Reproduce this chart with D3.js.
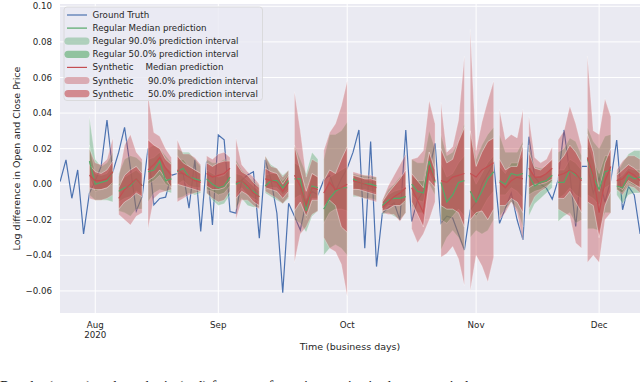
<!DOCTYPE html>
<html>
<head>
<meta charset="utf-8">
<script src="https://cdn.jsdelivr.net/npm/d3@7"></script>
<style>
  body { margin: 0; background: #fff; overflow: hidden; }
  text { font-family: "DejaVu Sans", sans-serif; }
</style>
</head>
<body>
<div id="plot"></div>
<script>
// all values below are in units of 0.001 (log difference)
// ground truth, business-day index -6 .. 93 (index 0 = first business day of Aug 2020)
const gtStart = -6;
const groundTruth = [1.5, 13.7, -7.9, 8, -28, -5,
  2, 10, 36, 7, 18, 32, 9, -15, -7, 20,
  -11.6, -8, -7.3, 5, 6, 6, -13.5, 13.7, -26.6, 12.7,
  -22.9, 27.7, 24.9, -15.4, -16.3, 2.4, 5.2, 7, -30.3, 13.7,
  2.4, -16.3, -61, -10.7, -18, -25.7, -10, -4, -6, 2.4,
  5, -4, 3, 9, 18, 30.5, -36, 24, -46.3, -16.3,
  -13.3, -10.5, -20, 30.5, -21, -9, -4, 8, 23, -21.9,
  -18, -19, -28, -37, -14.5, -10, 0, 6, 11.8, -22,
  -13.5, -5, -20, -31.3, 26.7, 4, 0, -2.2, -8.4, 2.4,
  30.5, 6, -23.8, 10, 10, -5, 4, -10, 2.4, 24.8,
  -14.4, -1.3, -6, -28];

// weekly forecast windows (5 business days each), first index of each window
const chunkStart = [-1, 4, 9, 14, 19, 24, 29, 34, 39, 44, 49, 54, 59, 64, 69, 74, 79, 84, 89];

// Regular model
const regMed = [13,0,1,2,7, -4,-2,-1,3,-1, 7,8,13,2,3, 7,9,4,3,2, 3,0,-2,-1,4,
  0,2,-2,-4,-7, -1,2,2,-2,2, 3,3,-15,-1,-2, -14,-8,-4,-2,-2, 3,1,0,0,-1,
  -12,-9,-8,-8,-7, 0,-4,-5,13,1, 1,-10,-6,1,2, -4,-10,-4,3,7, 2,0,6,5,6,
  5,-1,1,2,5, 1,1,8,5,3, 14,4,-3,7,8, -1,-2,5,3,4];
const regLo50 = [4,-4,-3,-2,0, -10,-8,-7,-4,-6, 0,2,5,0,-2, 0,2,-1,-2,-2, -3,-4,-6,-5,-1,
  -6,-2,-6,-8,-10, -3,-2,-2,-6,-3, -8,-6,-20,-8,-8, -22,-16,-14,-14,-15, -2,-3,-3,-4,-5,
  -15,-12,-12,-12,-10, -6,-9,-10,6,-2, -20,-22,-18,-14,-18, -14,-18,-14,-8,-4, -6,-6,-2,-4,-8,
  -6,-4,-3,-1,1, -8,-6,-2,-6,-8, -6,-8,-12,-2,0, -3,-5,1,-1,-1];
const regHi50 = [22,6,5,6,12, 0,4,6,8,5, 14,15,18,10,7, 14,14,10,8,6, 8,6,4,5,9,
  6,5,2,-1,-4, 5,6,6,2,6, 12,10,-8,6,4, -5,4,6,8,10, 5,4,3,2,2,
  -10,-6,-4,-3,-2, 5,2,2,18,6, 12,4,6,12,16, 8,0,6,12,16, 10,6,12,12,16,
  12,4,5,6,9, 8,8,14,12,8, 24,14,6,16,16, 3,5,9,8,8];
const regLo90 = [-6,-9,-9,-9,-10, -15,-16,-18,-14,-14, -10,-5,-3,-4,-5, -8,-7,-5,-6,-5, -5,-9,-12,-11,-6,
  -14,-8,-12,-13,-13, -5,-7,-9,-11,-8, -20,-22,-27,-18,-15, -40,-36,-34,-36,-40, -7,-7,-8,-8,-9,
  -17,-16,-18,-20,-16, -12,-16,-16,0,-6, -37,-30,-26,-30,-38, -30,-26,-28,-26,-20, -18,-14,-10,-14,-24,
  -18,-11,-8,-5,-2, -21,-18,-16,-22,-20, -25,-25,-26,-16,-16, -6,-11,-6,-5,-5];
const regHi90 = [38,14,10,12,18, 6,14,16,15,12, 20,22,20,16,12, 20,18,18,14,10, 14,12,12,14,13,
  14,8,5,2,-1, 16,11,9,5,8, 22,14,6,18,14, 14,28,28,30,35, 6,5,5,4,4,
  -9,-3,0,4,6, 14,12,12,30,20, 28,16,18,24,34, 30,14,22,28,32, 28,18,18,18,24,
  22,10,9,10,14, 18,20,26,24,16, 32,24,20,27,28, 6,12,17,19,19];

// Synthetic model
const synMed = [5,2,2,3,7, -8,-3,0,3,-1, 8,11,15,9,5, 8,6,4,2,1, 6,4,5,6,9,
  1,2,-1,-5,-7, 3,2,1,-4,1, 5,-1,-12,-2,-3, -5,1,-3,-2,0, 2,1,0,-1,-2,
  -13,-10,-7,-5,-2, -2,-9,-16,10,2, 2,1,4,5,6, 6,4,8,10,12, 1,-2,2,4,3,
  9,4,4,6,9, 5,6,8,6,2, 15,5,-16,2,10, 2,3,7,5,2];
const synLo50 = [-2,-3,-3,-2,1, -14,-10,-8,-5,-7, 2,4,8,3,-2, 0,-1,-2,-3,-4, -1,-3,-3,-2,2,
  -8,-4,-6,-10,-12, -2,-3,-4,-8,-4, -15,-10,-18,-9,-9, -13,-9,-12,-24,-27, -3,-3,-4,-5,-6,
  -15,-14,-12,-12,-9, -10,-17,-24,2,-2, -12,-14,-14,-16,-24, -20,-16,-15,-20,-14, -12,-12,-8,-10,-16,
  -2,0,0,1,3, -8,-8,-4,-10,-16, -10,-12,-30,-12,-4, -1,-3,2,0,-2];
const synHi50 = [11,7,6,8,13, -2,5,8,10,6, 25,22,20,14,11, 16,12,10,8,6, 12,10,12,13,13,
  12,7,5,1,-2, 9,7,6,0,5, 22,8,-4,6,4, 2,8,6,14,21, 5,4,3,3,2,
  -10,-5,-1,3,8, 6,2,-2,18,8, 20,12,14,24,32, 30,10,18,24,26, 14,8,10,10,22,
  18,9,8,11,14, 12,16,22,18,12, 28,18,-4,12,20, 5,8,11,9,6];
const synLo90 = [-8,-9,-9,-8,-6, -17,-20,-23,-18,-16, -25,-8,-5,-4,-3, -10,-8,-6,-5,-4, -5,-8,-10,-9,-4,
  -20,-9,-9,-12,-14, -4,-6,-8,-11,-7, -44,-28,-24,-17,-15, -30,-36,-38,-45,-63, -6,-7,-8,-9,-10,
  -16,-17,-17,-21,-16, -25,-33,-28,-20,-10, -41,-39,-35,-42,-57, -60,-40,-46,-55,-41, -20,-16,-10,-16,-32,
  -14,-7,-4,-2,2, -14,-16,-18,-33,-36, -44,-40,-44,-20,-16, -3,-6,-1,-2,-5];
const synHi90 = [20,12,11,14,26, 4,22,28,18,14, 50,29,27,20,15, 25,17,17,15,11, 16,14,17,18,15,
  26,11,7,4,0, 16,10,9,4,8, 52,30,4,14,12, 19,29,34,44,58, 7,6,5,5,4,
  -9,-1,5,11,17, 14,15,19,47,34, 46,18,21,36,72, 87,19,35,47,58, 42,25,28,26,42,
  38,15,12,14,21, 25,30,44,34,21, 72,30,28,48,38, 8,13,16,16,14];

// axis ticks
const monthTickIndex = [0, 21, 43, 65, 86];
const monthTickLabels = [["Aug", "2020"], ["Sep"], ["Oct"], ["Nov"], ["Dec"]];
const yTicks = [-0.06, -0.04, -0.02, 0.00, 0.02, 0.04, 0.06, 0.08, 0.10];

const width = 640, height = 382;
const plot = { left: 60, right: 646, top: 4, bottom: 313 };

const blue = "#4c72b0", green = "#55a868", red = "#c44e52";

const svg = d3.select("#plot").append("svg")
  .attr("width", width)
  .attr("height", height)
  .style("display", "block");

const x = d3.scaleLinear().domain([-6.02, 94]).range([plot.left, plot.right]);
const y = d3.scaleLinear().domain([-0.0724, 0.1013]).range([plot.bottom, plot.top]);

svg.append("defs").append("clipPath").attr("id", "clip")
  .append("rect")
  .attr("x", plot.left).attr("y", plot.top)
  .attr("width", plot.right - plot.left).attr("height", plot.bottom - plot.top);

// background + grid
svg.append("rect")
  .attr("x", plot.left).attr("y", plot.top)
  .attr("width", plot.right - plot.left).attr("height", plot.bottom - plot.top)
  .attr("fill", "#eaeaf2");

const grid = svg.append("g").attr("stroke", "#fff").attr("stroke-width", 1);
grid.selectAll(".gy").data(yTicks).enter().append("line")
  .attr("x1", plot.left).attr("x2", plot.right)
  .attr("y1", d => y(d)).attr("y2", d => y(d));
grid.selectAll(".gx").data(monthTickIndex).enter().append("line")
  .attr("y1", plot.top).attr("y2", plot.bottom)
  .attr("x1", d => x(d)).attr("x2", d => x(d));

const chart = svg.append("g").attr("clip-path", "url(#clip)");

// ground truth
chart.append("path")
  .datum(groundTruth)
  .attr("fill", "none")
  .attr("stroke", blue)
  .attr("stroke-width", 1.2)
  .attr("d", d3.line().x((d, k) => x(gtStart + k)).y(d => y(d / 1000)));

function chunkPoints(c, lo, hi) {
  return d3.range(5).map(j => ({ i: chunkStart[c] + j, lo: lo[c * 5 + j] / 1000, hi: hi[c * 5 + j] / 1000 }));
}

const area = d3.area().x(d => x(d.i)).y0(d => y(d.lo)).y1(d => y(d.hi));

function drawBands(lo, hi, color, alpha) {
  chunkStart.forEach((s, c) => {
    chart.append("path")
      .attr("d", area(chunkPoints(c, lo, hi)))
      .attr("fill", color)
      .attr("fill-opacity", alpha)
      .attr("stroke", "#fff")
      .attr("stroke-opacity", alpha * 0.8)
      .attr("stroke-width", 0.8);
  });
}

function drawMedian(med, color) {
  const line = d3.line().x(d => x(d.i)).y(d => y(d.v));
  chunkStart.forEach((s, c) => {
    const pts = d3.range(5).map(j => ({ i: s + j, v: med[c * 5 + j] / 1000 }));
    chart.append("path")
      .attr("d", line(pts))
      .attr("fill", "none")
      .attr("stroke", color)
      .attr("stroke-width", 1.2);
  });
}

drawBands(regLo90, regHi90, green, 0.4);
drawBands(regLo50, regHi50, green, 0.6);
drawBands(synLo90, synHi90, red, 0.4);
drawBands(synLo50, synHi50, red, 0.62);
drawMedian(regMed, green);
drawMedian(synMed, red);

// y tick labels
svg.selectAll(".yt").data(yTicks).enter().append("text")
  .attr("x", plot.left - 8)
  .attr("y", d => y(d))
  .attr("dy", "0.35em")
  .attr("text-anchor", "end")
  .style("font-size", "8.7px")
  .attr("fill", "#262626")
  .text(d => d3.format(".2f")(d));

// x tick labels
monthTickIndex.forEach((idx, k) => {
  const t = svg.append("text")
    .attr("x", x(idx))
    .attr("y", plot.bottom + 15)
    .attr("text-anchor", "middle")
    .style("font-size", "8.7px")
    .attr("fill", "#262626");
  monthTickLabels[k].forEach((s, r) => {
    t.append("tspan").attr("x", x(idx)).attr("dy", r === 0 ? 0 : "1.15em").text(s);
  });
});

// axis labels
svg.append("text")
  .attr("x", (plot.left + plot.right - 6) / 2)
  .attr("y", 350)
  .attr("text-anchor", "middle")
  .style("font-size", "9.5px")
  .attr("fill", "#262626")
  .text("Time (business days)");

svg.append("text")
  .attr("transform", "rotate(-90)")
  .attr("x", -(plot.top + plot.bottom) / 2)
  .attr("y", 19.5)
  .attr("text-anchor", "middle")
  .style("font-size", "9.5px")
  .attr("fill", "#262626")
  .text("Log difference in Open and Close Price");

// legend
const legendItems = [
  { type: "line", color: blue, a: "Ground Truth" },
  { type: "line", color: green, a: "Regular Median prediction" },
  { type: "patch", color: green, alpha: 0.4, a: "Regular 90.0% prediction interval" },
  { type: "patch", color: green, alpha: 0.6, a: "Regular 50.0% prediction interval" },
  { type: "line", color: red, a: "Synthetic", b: "Median prediction", bx: 53 },
  { type: "patch", color: red, alpha: 0.4, a: "Synthetic", b: "90.0% prediction interval", bx: 55.5 },
  { type: "patch", color: red, alpha: 0.62, a: "Synthetic", b: "50.0% prediction interval", bx: 55.5 }
];

const lg = svg.append("g").attr("transform", "translate(64,7)");
lg.append("rect")
  .attr("width", 198.5).attr("height", 93.5)
  .attr("rx", 3)
  .attr("fill", "#eaeaf2").attr("fill-opacity", 0.8)
  .attr("stroke", "#d5d5d5").attr("stroke-width", 0.8);

legendItems.forEach((d, k) => {
  const cy = 8 + k * 13.1;
  if (d.type === "line") {
    lg.append("line")
      .attr("x1", 3).attr("x2", 23).attr("y1", cy).attr("y2", cy)
      .attr("stroke", d.color).attr("stroke-width", 1.2);
  } else {
    lg.append("rect")
      .attr("x", 0.5).attr("y", cy - 3.6)
      .attr("width", 25).attr("height", 7.2).attr("rx", 3.6)
      .attr("fill", d.color).attr("fill-opacity", d.alpha);
  }
  const t = lg.append("text")
    .attr("x", 28.5).attr("y", cy).attr("dy", "0.35em")
    .style("font-size", "8.7px").attr("fill", "#262626");
  t.append("tspan").text(d.a);
  if (d.b) t.append("tspan").attr("x", 28.5 + d.bx).text(d.b);
});

// caption of the page, only its top edge shows at the bottom
svg.append("text")
  .attr("x", 0)
  .attr("y", 391)
  .style("font-family", "'Liberation Serif', serif")
  .style("font-size", "15px")
  .attr("fill", "#222")
  .text("Results (green) and synthetic (red) forecasts for a time series in the test period.");
</script>
</body>
</html>
